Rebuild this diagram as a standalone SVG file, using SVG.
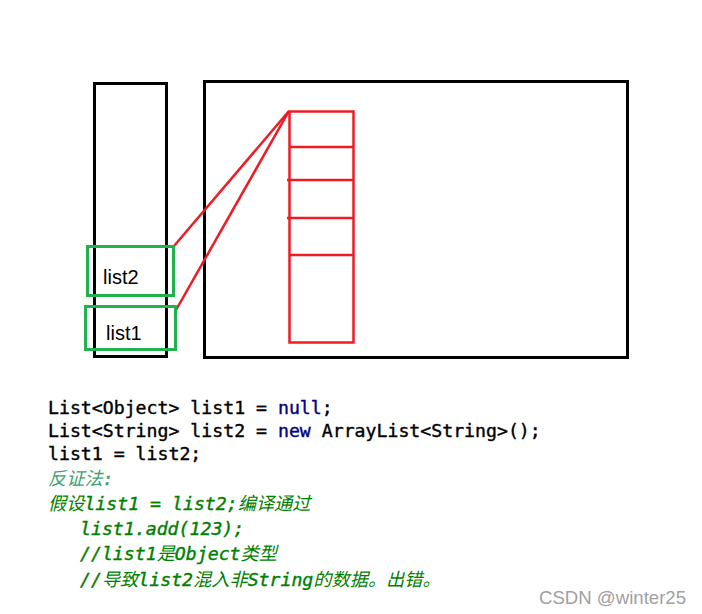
<svg xmlns="http://www.w3.org/2000/svg" width="702" height="614" viewBox="0 0 702 614">
<style>
.blk{fill:none;stroke:#000;stroke-width:3}
.red{fill:none;stroke:#ed1c24;stroke-width:2.5}
.grn{fill:none;stroke:#22b14c;stroke-width:3}
.lbl{font-family:"Liberation Sans",Arial,sans-serif;font-size:20px;fill:#000}
.code{font-family:"DejaVu Sans Mono","Liberation Mono",monospace;font-size:18.2px;fill:#000;stroke:#000;stroke-width:0.4}
.kw{fill:#000080;stroke:#000080}
.cm{font-family:"DejaVu Sans Mono","Noto Sans CJK SC",monospace;font-size:18.2px;font-style:italic;fill:#008000;stroke:#008000;stroke-width:0.4}
.cn{font-family:"Noto Sans CJK SC",sans-serif;font-style:italic;stroke-width:0}
.wm{font-family:"Liberation Sans",Arial,sans-serif;font-size:18.6px;fill:#a0a0a0}
</style>
<rect width="702" height="614" fill="#fff"/>
<g id="stack"><rect class="blk" x="94.5" y="83.5" width="72" height="273"/></g>
<g id="heap"><rect class="blk" x="204.5" y="81.5" width="423" height="276"/></g>
<g id="array">
<rect class="red" x="289.5" y="111.5" width="64" height="231"/>
<line class="red" x1="289" y1="147" x2="353" y2="147"/>
<line class="red" x1="287" y1="180" x2="353" y2="180"/>
<line class="red" x1="287" y1="218" x2="353" y2="218"/>
<line class="red" x1="289" y1="255" x2="353" y2="255"/>
</g>
<g id="connectors">
<line class="red" x1="289" y1="111" x2="174" y2="246"/>
<line class="red" x1="289" y1="111" x2="176" y2="310"/>
</g>
<g id="list2"><rect class="grn" x="87.5" y="246.5" width="86" height="49"/><text class="lbl" x="103" y="284">list2</text></g>
<g id="list1"><rect class="grn" x="85.5" y="306.5" width="90" height="43"/><text class="lbl" x="106" y="340">list1</text></g>
<g id="code">
<text class="code" x="48" y="414">List&lt;Object&gt; list1 = <tspan class="kw">null</tspan>;</text>
<text class="code" x="48" y="437">List&lt;String&gt; list2 = <tspan class="kw">new</tspan> ArrayList&lt;String&gt;();</text>
<text class="code" x="48" y="460">list1 = list2;</text>
<text class="cm" x="48" y="485"><tspan class="cn" fill="#3f9f6f">反证法</tspan><tspan fill="#3f9f6f" stroke="#3f9f6f">:</tspan></text>
<text class="cm" x="48" y="510"><tspan class="cn">假设</tspan>list1 = list2;<tspan class="cn">编译通过</tspan></text>
<text class="cm" x="80" y="535">list1.add(123);</text>
<text class="cm" x="80" y="560">//list1<tspan class="cn">是</tspan>Object<tspan class="cn">类型</tspan></text>
<text class="cm" x="80" y="586">//<tspan class="cn">导致</tspan>list2<tspan class="cn">混入非</tspan>String<tspan class="cn">的数据。出错。</tspan></text>
</g>
<text class="wm" x="539" y="604">CSDN @winter25</text>
</svg>
